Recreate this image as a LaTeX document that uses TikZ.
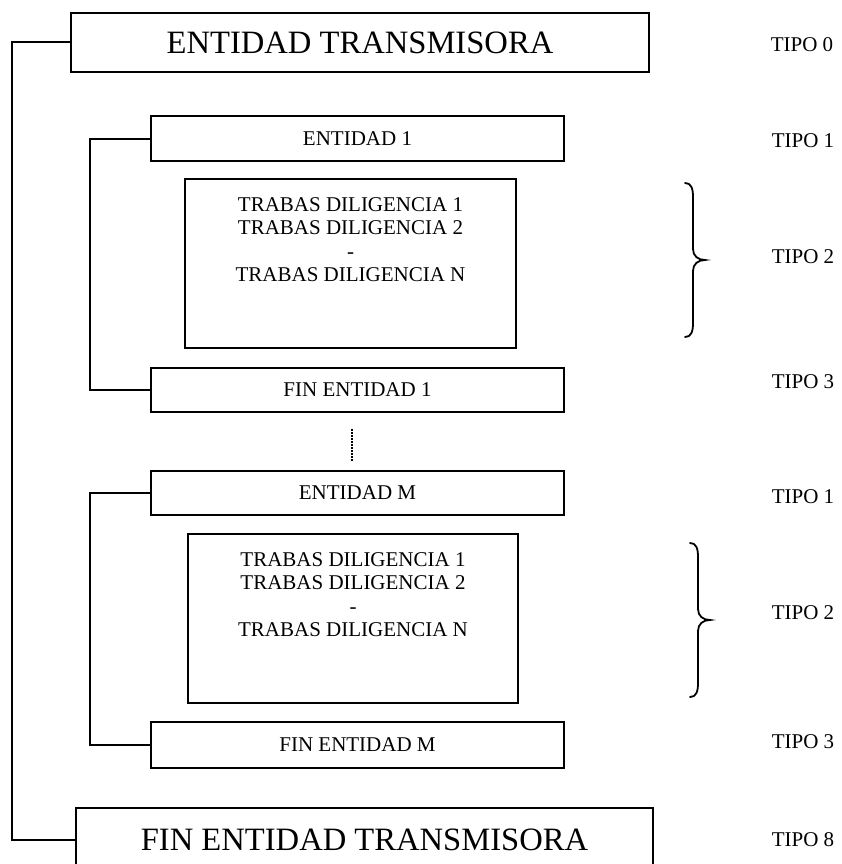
\documentclass[tikz,border=0pt]{standalone}
\usepackage{fontspec}
\setmainfont{Liberation Serif}
\usetikzlibrary{calc}
\begin{document}
\begin{tikzpicture}[x=1pt,y=-1pt,
  box/.style={draw,line width=2pt,rectangle,inner sep=0pt},
  small/.style={font=\fontsize{21}{23.5}\selectfont},
  big/.style={font=\fontsize{32.6}{36}\selectfont},
  link/.style={line width=2pt},
  bracepath/.style={line width=1.8pt,line cap=round},
  tipo/.style={small,inner sep=0pt}]
\useasboundingbox (0,0) rectangle (841,864);
\clip (0,0) rectangle (841,864);
% boxes
\node[box,big,minimum width=578pt,minimum height=59pt] (b0) at (360,42.5) {ENTIDAD TRANSMISORA};
\node[box,small,minimum width=413pt,minimum height=45pt] (e1) at (357.5,138.5) {ENTIDAD 1};
\node[box,minimum width=331pt,minimum height=169pt] (t1) at (350.5,263.5) {};
\node[small,align=center,anchor=north,inner sep=0pt] (t1txt) at ($(t1.north)+(0,19)$) {TRABAS DILIGENCIA 1\\TRABAS DILIGENCIA 2\\-\\TRABAS DILIGENCIA N};
\node[box,small,minimum width=413pt,minimum height=44pt] (f1) at (357.5,390) {FIN ENTIDAD 1};
\node[box,small,minimum width=413pt,minimum height=44pt] (em) at (357.5,493) {ENTIDAD M};
\node[box,minimum width=330pt,minimum height=169pt] (t2) at (353,618.5) {};
\node[small,align=center,anchor=north,inner sep=0pt] (t2txt) at ($(t2.north)+(0,19)$) {TRABAS DILIGENCIA 1\\TRABAS DILIGENCIA 2\\-\\TRABAS DILIGENCIA N};
\node[box,small,minimum width=413pt,minimum height=46pt] (fm) at (357.5,745) {FIN ENTIDAD M};
\node[box,big,minimum width=577pt,minimum height=64pt] (b8) at (364.5,840) {FIN ENTIDAD TRANSMISORA};
% tipo labels
\node[tipo] (tp0) at (802,45) {TIPO 0};
\node[tipo] (tp1a) at (803,141) {TIPO 1};
\node[tipo] (tp2a) at (803,257) {TIPO 2};
\node[tipo] (tp3a) at (803,382) {TIPO 3};
\node[tipo] (tp1b) at (803,497) {TIPO 1};
\node[tipo] (tp2b) at (803,613) {TIPO 2};
\node[tipo] (tp3b) at (803,742) {TIPO 3};
\node[tipo] (tp8) at (803,840) {TIPO 8};
% connectors
\draw[link] (b0.west) -- ++(-58,0) |- (b8.west);
\draw[link] (e1.west) -- ++(-60,0) |- (f1.west);
\draw[link] (em.west) -- ++(-60,0) |- (fm.west);
\draw[line width=2pt,dash pattern=on 1.5pt off 1.5pt] ($(f1.south)+(-6,16)$) -- ($(em.north)+(-6,-9)$);
% braces
\draw[bracepath] (685,183) .. controls (691,183) and (693,188) .. (693,197) -- (693,249)
  .. controls (693,256) and (698,260) .. (705,260)
  .. controls (698,260) and (693,264) .. (693,271) -- (693,323)
  .. controls (693,332) and (691,337) .. (685,337);
\draw[bracepath] (690,543) .. controls (696,543) and (698,548) .. (698,557) -- (698,609)
  .. controls (698,616) and (703,620) .. (710,620)
  .. controls (703,620) and (698,624) .. (698,631) -- (698,683)
  .. controls (698,692) and (696,697) .. (690,697);
\end{tikzpicture}
\end{document}
